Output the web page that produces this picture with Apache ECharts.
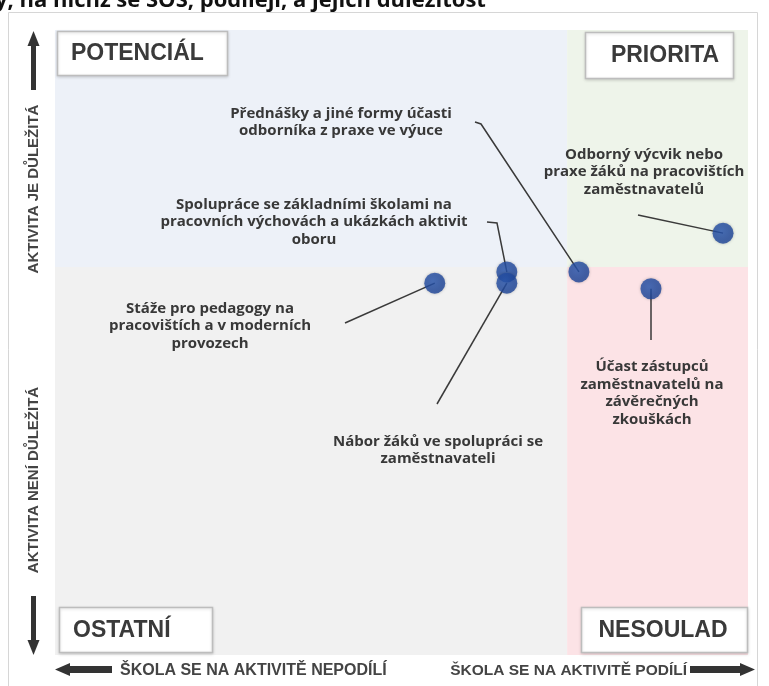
<!DOCTYPE html>
<html>
<head>
<meta charset="utf-8">
<script src="https://cdn.jsdelivr.net/npm/echarts@6/dist/echarts.min.js"></script>
<style>
  html, body { margin: 0; padding: 0; background: #fff; }
  #main { width: 769px; height: 686px; }
</style>
</head>
<body>
<div id="main"></div>
<script>
// activity positions: x = school participation, y = importance (0..100)
const activityNames = [
  "Stáže pro pedagogy",
  "Spolupráce se ZŠ",
  "Nábor žáků",
  "Přednášky odborníků",
  "Účast zástupců u zkoušek",
  "Odborný výcvik"
];
const xValues = [54.8, 65.2, 65.2, 75.6, 86.0, 96.4];
const yValues = [59.5, 61.3, 59.5, 61.3, 58.6, 67.5];
const xSplit = 73.9;
const ySplit = 62.1;

const labelLines = [
  ["Stáže pro pedagogy na", "pracovištích a v moderních", "provozech"],
  ["Spolupráce se základními školami na", "pracovních výchovách a ukázkách aktivit", "oboru"],
  ["Nábor žáků ve spolupráci se", "zaměstnavateli"],
  ["Přednášky a jiné formy účasti", "odborníka z praxe ve výuce"],
  ["Účast zástupců", "zaměstnavatelů na", "závěrečných", "zkouškách"],
  ["Odborný výcvik nebo", "praxe žáků na pracovištích", "zaměstnavatelů"]
];
const quadrantNames = ["POTENCIÁL", "PRIORITA", "OSTATNÍ", "NESOULAD"];

// label placement (pixels) and leader line start points
const labelPos = [[210, 326], [314, 222], [438, 450], [341, 122], [652, 393], [644, 172]];
const leaderPaths = [
  [[345, 323]],
  [[487, 222], [497, 223]],
  [[437, 404]],
  [[475, 122], [481, 124]],
  [[651, 340]],
  [[638, 215]]
];

const chart = echarts.init(document.getElementById("main"));
chart.setOption({
  backgroundColor: "#fff",
  animation: false,
  grid: { left: 55, right: 21, top: 30, bottom: 31 },
  xAxis: { type: "value", min: 0, max: 100, show: false },
  yAxis: { type: "value", min: 0, max: 100, show: false },
  series: [{
    type: "scatter",
    z: 5,
    symbolSize: 21,
    itemStyle: {
      color: new echarts.graphic.RadialGradient(0.4, 0.4, 0.7, [
        { offset: 0, color: "#2a58b2" },
        { offset: 1, color: "#1b4194" }
      ]),
      shadowBlur: 3,
      shadowColor: "rgba(0,0,0,0.3)"
    },
    data: xValues.map((x, i) => ({ name: activityNames[i], value: [x, yValues[i]] }))
  }]
});

const px = (x, y) => chart.convertToPixel({ gridIndex: 0 }, [x, y]);
const tl = px(0, 100), br = px(100, 0), mid = px(xSplit, ySplit);

const g = [];
// outer frame
g.push({ type: "rect", z: -5, shape: { x: 8.5, y: 12.5, width: 749, height: 690 },
  style: { fill: "#fff", stroke: "#d6d6d6", lineWidth: 1 } });
// quadrant backgrounds
const quads = [
  [tl[0], tl[1], mid[0], mid[1], "#edf1f8"],
  [mid[0], tl[1], br[0], mid[1], "#eef4ea"],
  [tl[0], mid[1], mid[0], br[1], "#f1f1f1"],
  [mid[0], mid[1], br[0], br[1], "#fce3e6"]
];
quads.forEach(q => g.push({ type: "rect", z: -1,
  shape: { x: q[0], y: q[1], width: q[2] - q[0], height: q[3] - q[1] },
  style: { fill: q[4] } }));

// leader lines
leaderPaths.forEach((p, i) => {
  const dot = px(xValues[i], yValues[i]);
  g.push({ type: "polyline", z: 1, shape: { points: p.concat([dot]) },
    style: { stroke: "#3a3a3a", lineWidth: 1.5, fill: null } });
});
// annotation texts
labelLines.forEach((lines, i) => {
  g.push({ type: "text", z: 3, x: labelPos[i][0], y: labelPos[i][1],
    style: { text: lines.join("\n"), font: "bold 15px 'Open Sans'", fill: "#383838",
      align: "center", verticalAlign: "middle", lineHeight: 17.5 } });
});

// quadrant label boxes
const boxes = [
  { x: 57, y: 31, w: 170, h: 44, tx: 71, align: "left" },
  { x: 585, y: 32, w: 148, h: 46, tx: 665, align: "center" },
  { x: 59, y: 607, w: 153, h: 45, tx: 73, align: "left" },
  { x: 581, y: 607, w: 166, h: 45, tx: 663, align: "center" }
];
boxes.forEach((b, i) => {
  g.push({ type: "rect", z: 6, shape: { x: b.x + 0.5, y: b.y + 0.5, width: b.w, height: b.h },
    style: { fill: "#fff", stroke: "#bdbdbd", lineWidth: 1.5,
      shadowBlur: 3, shadowColor: "rgba(0,0,0,0.15)", shadowOffsetY: 1 } });
  g.push({ type: "text", z: 7, x: b.tx, y: b.y + b.h / 2 + 1,
    style: { text: quadrantNames[i], font: "bold 23px 'Liberation Sans'", fill: "#3a3a3a",
      align: b.align, verticalAlign: "middle" } });
});

// vertical axis arrows and labels
const arrowColor = "#333";
g.push({ type: "rect", z: 2, shape: { x: 31, y: 44, width: 5, height: 46 }, style: { fill: arrowColor } });
g.push({ type: "polygon", z: 2, shape: { points: [[33.5, 31], [27.5, 46], [39.5, 46]] }, style: { fill: arrowColor } });
g.push({ type: "rect", z: 2, shape: { x: 31, y: 596, width: 5, height: 46 }, style: { fill: arrowColor } });
g.push({ type: "polygon", z: 2, shape: { points: [[33.5, 655], [27.5, 640], [39.5, 640]] }, style: { fill: arrowColor } });
g.push({ type: "text", z: 2, x: 34, y: 189, rotation: Math.PI / 2,
  style: { text: "AKTIVITA JE DŮLEŽITÁ", font: "bold 15px 'Liberation Sans'", fill: "#444",
    align: "center", verticalAlign: "middle" } });
g.push({ type: "text", z: 2, x: 34, y: 480, rotation: Math.PI / 2,
  style: { text: "AKTIVITA NENÍ DŮLEŽITÁ", font: "bold 15px 'Liberation Sans'", fill: "#444",
    align: "center", verticalAlign: "middle" } });

// horizontal axis arrows and labels
g.push({ type: "rect", z: 2, shape: { x: 68, y: 666, width: 44, height: 7 }, style: { fill: arrowColor } });
g.push({ type: "polygon", z: 2, shape: { points: [[55, 669.5], [70, 663], [70, 676]] }, style: { fill: arrowColor } });
g.push({ type: "rect", z: 2, shape: { x: 690, y: 666, width: 52, height: 7 }, style: { fill: arrowColor } });
g.push({ type: "polygon", z: 2, shape: { points: [[755, 669.5], [740, 663], [740, 676]] }, style: { fill: arrowColor } });
g.push({ type: "text", z: 2, x: 120, y: 671,
  style: { text: "ŠKOLA SE NA AKTIVITĚ NEPODÍLÍ", font: "bold 16px 'Liberation Sans'", fill: "#444",
    align: "left", verticalAlign: "middle" } });
g.push({ type: "text", z: 2, x: 687, y: 671,
  style: { text: "ŠKOLA SE NA AKTIVITĚ PODÍLÍ", font: "bold 15.5px 'Liberation Sans'", fill: "#444",
    align: "right", verticalAlign: "middle" } });

// clipped title at the very top
g.push({ type: "text", z: 2, x: -5, y: 12,
  style: { text: "y, na nichž se SOŠ, podílejí, a jejich důležitost", font: "bold 22px 'Open Sans'",
    fill: "#111", align: "left", verticalAlign: "bottom" } });

chart.setOption({ graphic: { elements: g } });
</script>
</body>
</html>
